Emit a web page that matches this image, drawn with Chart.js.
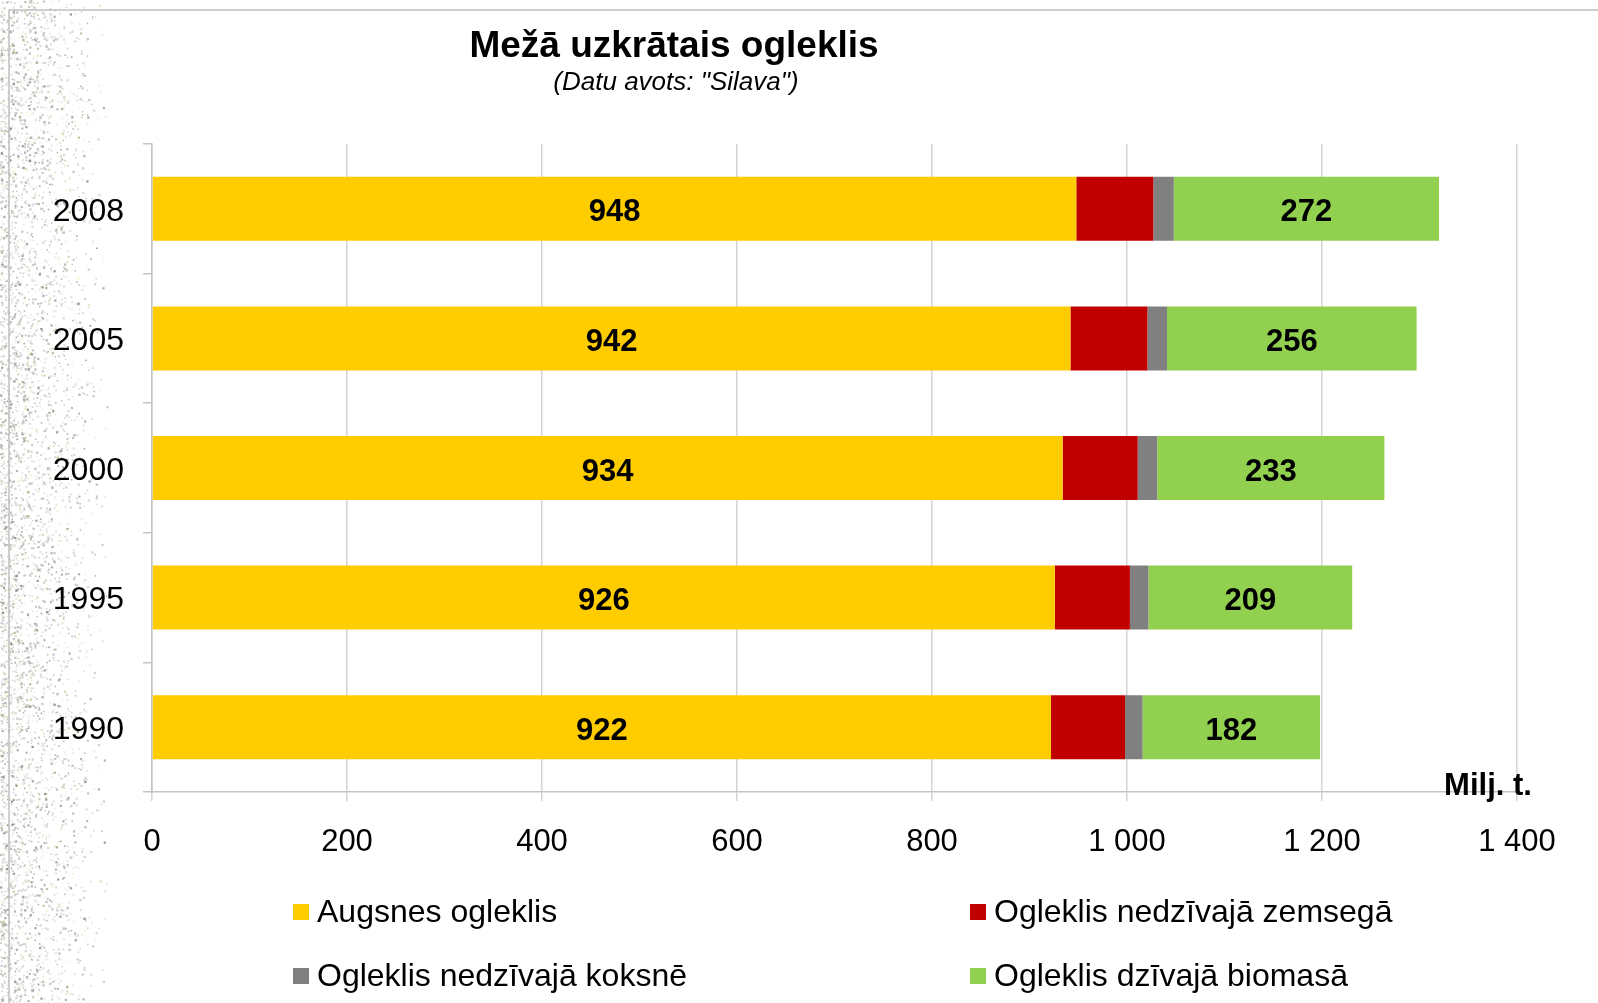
<!DOCTYPE html>
<html>
<head>
<meta charset="utf-8">
<title>Mežā uzkrātais ogleklis</title>
<script src="https://cdn.jsdelivr.net/npm/chart.js@4/dist/chart.umd.min.js"></script>
<style>
  html, body { margin: 0; padding: 0; background: #ffffff; }
  #wrap { width: 1598px; height: 1003px; position: relative; }
</style>
</head>
<body>
<div id="wrap"><canvas id="carbonChart" width="1598" height="1003"></canvas></div>
<script>
// data (milj. t.)
const years = ["2008", "2005", "2000", "1995", "1990"];
const soilCarbon = [948, 942, 934, 926, 922];
const litterCarbon = [79, 79, 77, 77, 76];
const deadWoodCarbon = [21, 20, 20, 19, 18];
const biomassCarbon = [272, 256, 233, 209, 182];

const seriesNames = [
    "Augsnes ogleklis",
    "Ogleklis nedzīvajā zemsegā",
    "Ogleklis nedzīvajā koksnē",
    "Ogleklis dzīvajā biomasā"
];
const seriesColors = ["#FFCC00", "#C00000", "#808080", "#92D050"];
const xTicks = [0, 200, 400, 600, 800, 1000, 1200, 1400];

const FONT = "'Liberation Sans', Arial, sans-serif";

// small seeded generator for the background speckle
function mulberry32(a) {
    return function () {
        a |= 0; a = a + 0x6D2B79F5 | 0;
        let t = Math.imul(a ^ a >>> 15, 1 | a);
        t = t + Math.imul(t ^ t >>> 7, 61 | t) ^ t;
        return ((t ^ t >>> 14) >>> 0) / 4294967296;
    };
}

// background: white, speckled strip on the left, frame lines
const backgroundPlugin = {
    id: "background",
    beforeDraw(chart) {
        const ctx = chart.ctx;
        ctx.save();
        ctx.fillStyle = "#ffffff";
        ctx.fillRect(0, 0, chart.width, chart.height);

        const rnd = mulberry32(20080);
        for (let i = 0; i < 7000; i++) {
            const x = Math.pow(rnd(), 1.3) * 110;
            const y = rnd() * chart.height;
            const fade = x < 30 ? 1 : Math.max(0, 1 - (x - 30) / 80);
            if (rnd() > fade) continue;
            const g = Math.floor(80 + rnd() * 140);
            const tint = rnd() < 0.25;
            ctx.fillStyle = tint
                ? "rgba(" + (g + 20) + "," + (g + 30) + "," + (g - 25) + "," + (0.25 + rnd() * 0.35) + ")"
                : "rgba(" + g + "," + g + "," + g + "," + (0.2 + rnd() * 0.45) + ")";
            const s = rnd() < 0.35 ? 2.2 : 1.5;
            ctx.fillRect(x, y, s, s);
        }

        ctx.strokeStyle = "#c0c0c0";
        ctx.lineWidth = 1.5;
        ctx.beginPath();
        ctx.moveTo(9, chart.height);
        ctx.lineTo(9, 10);
        ctx.lineTo(chart.width, 10);
        ctx.stroke();
        ctx.restore();
    }
};

// titles, unit label, value labels and legend
const textPlugin = {
    id: "texts",
    afterDatasetsDraw(chart) {
        const ctx = chart.ctx;
        ctx.save();
        ctx.fillStyle = "#000000";
        ctx.textAlign = "center";
        ctx.textBaseline = "middle";

        // value labels on first and last segment
        ctx.font = "bold 31px " + FONT;
        [0, 3].forEach(function (di) {
            const meta = chart.getDatasetMeta(di);
            const values = chart.data.datasets[di].data;
            meta.data.forEach(function (bar, j) {
                ctx.fillText(String(values[j]), (bar.x + bar.base) / 2, bar.y + 4);
            });
        });
        ctx.restore();
    },
    afterDraw(chart) {
        const ctx = chart.ctx;
        ctx.save();
        ctx.fillStyle = "#000000";
        ctx.textAlign = "center";
        ctx.textBaseline = "middle";

        ctx.font = "bold 37px " + FONT;
        ctx.fillText("Mežā uzkrātais ogleklis", 674, 47);
        ctx.font = "italic 26px " + FONT;
        ctx.fillText("(Datu avots: \"Silava\")", 676, 83);

        ctx.font = "bold 31px " + FONT;
        ctx.fillText("Milj. t.", 1488, 786);

        // legend, two columns
        const cols = [293, 970];
        const rows = [912, 976];
        ctx.textAlign = "left";
        ctx.font = "32px " + FONT;
        chart.data.datasets.forEach(function (ds, i) {
            const x = cols[i % 2];
            const y = rows[Math.floor(i / 2)];
            ctx.fillStyle = ds.backgroundColor;
            ctx.fillRect(x, y - 8, 16, 16);
            ctx.fillStyle = "#000000";
            ctx.fillText(ds.label, x + 24, y + 1);
        });
        ctx.restore();
    }
};

const seriesValues = [soilCarbon, litterCarbon, deadWoodCarbon, biomassCarbon];

new Chart(document.getElementById("carbonChart").getContext("2d"), {
    type: "bar",
    data: {
        labels: years,
        datasets: seriesValues.map(function (vals, i) {
            return {
                label: seriesNames[i],
                data: vals,
                backgroundColor: seriesColors[i],
                borderWidth: 0,
                barPercentage: 0.494,
                categoryPercentage: 1.0
            };
        })
    },
    options: {
        indexAxis: "y",
        responsive: false,
        animation: false,
        layout: { padding: { left: 0, top: 144, right: 81, bottom: 133 } },
        plugins: {
            legend: { display: false },
            tooltip: { enabled: false },
            title: { display: false }
        },
        scales: {
            x: {
                stacked: true,
                min: 0,
                max: 1400,
                afterBuildTicks(scale) {
                    scale.ticks = xTicks.map(function (v) { return { value: v }; });
                },
                afterFit(scale) { scale.height = 78; },
                ticks: {
                    color: "#000000",
                    font: { family: FONT, size: 31 },
                    padding: 23,
                    maxRotation: 0,
                    callback: function (v) {
                        return v >= 1000 ? Math.floor(v / 1000) + " " + String(v % 1000).padStart(3, "0") : String(v);
                    }
                },
                grid: { color: "#d4d4d4", lineWidth: 1.5, tickLength: 9 },
                border: { color: "#c4c4c4", width: 1.5 }
            },
            y: {
                stacked: true,
                afterFit(scale) { scale.width = 152; },
                ticks: {
                    color: "#000000",
                    font: { family: FONT, size: 32 },
                    padding: 19,
                    labelOffset: 3
                },
                grid: { drawOnChartArea: false, drawTicks: true, tickLength: 9, color: "#c4c4c4", lineWidth: 1.5 },
                border: { color: "#c4c4c4", width: 1.5 }
            }
        }
    },
    plugins: [backgroundPlugin, textPlugin]
});
</script>
</body>
</html>
